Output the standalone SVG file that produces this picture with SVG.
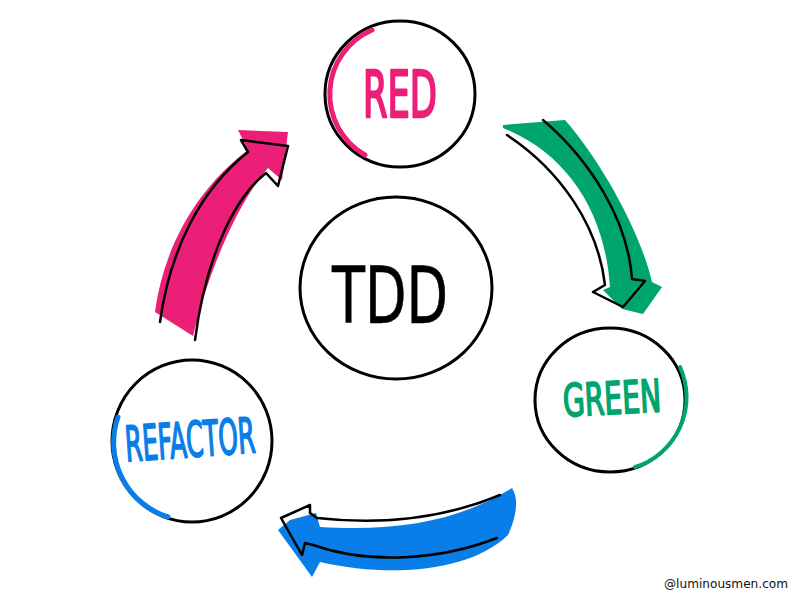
<svg xmlns="http://www.w3.org/2000/svg" width="800" height="599" viewBox="0 0 800 599">
<style>
.ring{fill:#fff;stroke:#000;stroke-width:3}
.out{fill:none;stroke:#000;stroke-width:2.5;stroke-linejoin:round;stroke-linecap:round}
.lbl{font-family:"Liberation Sans Narrow","DejaVu Sans Condensed","Liberation Sans",sans-serif;text-anchor:middle;stroke-linejoin:round}
.pink{fill:#ec1f78}.green{fill:#00a56e}.blue{fill:#0a7ee8}
</style>
<rect width="800" height="599" fill="#fff"/>
<g id="connectors">
<g id="arrow-refactor-red">
<path class="pink" d="M155,312 C163,250 195,190 248,150 L238,130 L288,132 L282,180 L268,168 C240,200 210,265 193,336 Z"/>
<path class="out" d="M160,322 C170,250 200,190 248,152 L241,140 L288,146 L278,186 L266,173 C232,200 205,262 195,340"/>
</g>
<g id="arrow-red-green">
<path class="green" d="M503,125 L565,120 C600,160 640,230 652,282 L662,287 L643,314 L622,309 L603,290 L610,287 C605,215 570,155 503,128 Z"/>
<path class="out" d="M507,135 C560,170 598,225 605,285 L593,292 L623,307 L645,281 L632,279 C628,220 590,160 543,120"/>
</g>
<g id="arrow-green-refactor">
<path class="blue" d="M512,488 C520,500 515,520 508,535 C470,572 390,578 320,562 L312,577 L278,530 L290,520 L316,513 L320,527 C400,532 460,520 512,488 Z"/>
<path class="out" d="M500,495 C440,520 380,525 317,518 L310,513 L310,505 L281,518 L302,555 L305,543 L313,545 C370,565 440,560 497,538"/>
</g>
</g>
<g id="node-red">
<ellipse class="ring" cx="400" cy="94" rx="75" ry="73"/>
<path d="M372,30 A70,70 0 0 0 365,155" fill="none" stroke="#ec1f78" stroke-width="5" stroke-linecap="round"/>
<text class="lbl" x="400" y="117" font-size="64" fill="#ec1f78" stroke="#ec1f78" stroke-width="2.5" textLength="74" lengthAdjust="spacingAndGlyphs">RED</text>
</g>
<g id="node-tdd">
<ellipse class="ring" cx="396" cy="288" rx="96" ry="91"/>
<text class="lbl" x="390" y="323" font-size="78" fill="#000" stroke="#000" stroke-width="0.6" textLength="116" lengthAdjust="spacingAndGlyphs">TDD</text>
</g>
<g id="node-green">
<ellipse class="ring" cx="610" cy="400" rx="75" ry="72"/>
<path d="M680,367 A73,73 0 0 1 635,467" fill="none" stroke="#00a56e" stroke-width="4" stroke-linecap="round"/>
<text class="lbl" x="612" y="414" font-size="45" fill="#00a56e" stroke="#00a56e" stroke-width="1.8" textLength="98" lengthAdjust="spacingAndGlyphs" transform="rotate(-3 612 400)">GREEN</text>
</g>
<g id="node-refactor">
<ellipse class="ring" cx="192" cy="441" rx="80" ry="81"/>
<path d="M118,417 A78,78 0 0 0 168,517" fill="none" stroke="#0a7ee8" stroke-width="5" stroke-linecap="round"/>
<text class="lbl" x="190" y="457" font-size="49" fill="#0a7ee8" stroke="#0a7ee8" stroke-width="1.8" textLength="130" lengthAdjust="spacingAndGlyphs" transform="rotate(-4 190 440)">REFACTOR</text>
</g>
<text x="726" y="588" font-family="'DejaVu Sans',sans-serif" font-size="13" fill="#111" text-anchor="middle" textLength="124" lengthAdjust="spacingAndGlyphs">@luminousmen.com</text>
</svg>
